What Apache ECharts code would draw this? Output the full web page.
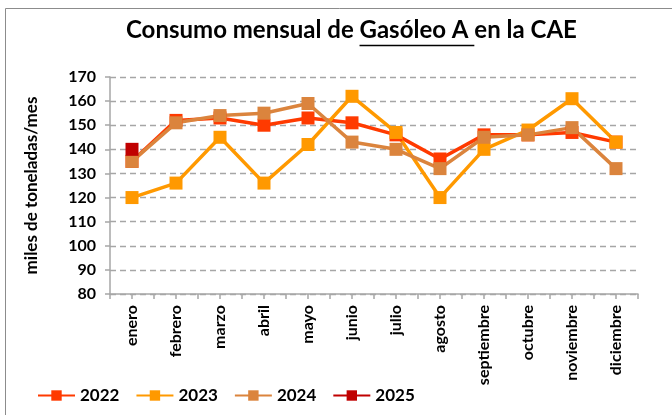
<!DOCTYPE html>
<html>
<head>
<meta charset="utf-8">
<script src="https://cdn.jsdelivr.net/npm/echarts@6/dist/echarts.min.js"></script>
<style>
  html, body { margin: 0; padding: 0; background: #fff; }
  #chart { width: 672px; height: 415px; }
</style>
</head>
<body>
<div id="chart"></div>
<script>
// datos
var meses = ['enero', 'febrero', 'marzo', 'abril', 'mayo', 'junio', 'julio', 'agosto', 'septiembre', 'octubre', 'noviembre', 'diciembre'];
var v2022 = [135, 152, 153, 150, 153, 151, 146, 136, 146, 146, 147, 143];
var v2023 = [120, 126, 145, 126, 142, 162, 147, 120, 140, 148, 161, 143];
var v2024 = [135, 151, 154, 155, 159, 143, 140, 132, 145, 146, 149, 132];
var v2025 = [140];

var fuente = 'Lato';
var tituloA = 'Consumo mensual de ';
var tituloB = 'Gasóleo A ';
var tituloC = 'en la CAE';

// medir el título para colocar el subrayado
var ctx = document.createElement('canvas').getContext('2d');
ctx.font = 'bold 24px ' + fuente;
var anchoA = ctx.measureText(tituloA).width;
var anchoB = ctx.measureText(tituloB).width;
var anchoTotal = ctx.measureText(tituloA + tituloB + tituloC).width;
var tituloX = Math.round(351 - anchoTotal / 2);
var tituloY = 18;

function serie(nombre, datos, color) {
    return {
        name: nombre,
        type: 'line',
        data: datos,
        symbol: 'rect',
        symbolSize: 13,
        lineStyle: { width: 3.5, color: color },
        itemStyle: { color: color },
        emphasis: { disabled: true },
        animation: false
    };
}

var myChart = echarts.init(document.getElementById('chart'));

var option = {
    backgroundColor: '#fff',
    textStyle: { fontFamily: fuente },
    title: {
        text: tituloA + tituloB + tituloC,
        left: tituloX - 5,
        top: tituloY - 5,
        textStyle: { fontFamily: fuente, fontSize: 24, fontWeight: 'bold', color: '#000' }
    },
    graphic: [
        // borde del área del gráfico
        { type: 'rect', shape: { x: 5.5, y: 8.5, width: 700, height: 450 }, style: { fill: null, stroke: '#8c8c8c', lineWidth: 1 }, z: -1 },
        // subrayado de "Gasóleo A"
        { type: 'line', shape: { x1: tituloX + anchoA, y1: 45.5, x2: tituloX + anchoA + anchoB, y2: 45.5 }, style: { stroke: '#000', lineWidth: 1.4 } }
    ],
    legend: {
        left: 32,
        top: 382,
        itemWidth: 37,
        itemHeight: 13,
        itemGap: 16,
        textStyle: { fontFamily: fuente, fontSize: 17, fontWeight: 'bold', color: '#000' },
        data: ['2022', '2023', '2024', '2025']
    },
    grid: { left: 110, right: 34, top: 77, bottom: 121 },
    xAxis: [{
        type: 'category',
        data: meses,
        boundaryGap: true,
        axisLine: { lineStyle: { color: '#a6a6a6', width: 1.5 } },
        axisTick: { show: true, interval: 0, length: 5, lineStyle: { color: '#a6a6a6', width: 1.5 } },
        axisLabel: { rotate: 90, interval: 0, margin: 11, fontFamily: fuente, fontSize: 16, fontWeight: 'bold', color: '#000' }
    }, {
        type: 'category',
        data: meses,
        position: 'bottom',
        boundaryGap: true,
        axisLine: { show: false },
        axisTick: { show: true, alignWithLabel: true, interval: 0, length: 5, lineStyle: { color: '#a6a6a6', width: 1.5 } },
        axisLabel: { show: false }
    }],
    yAxis: {
        type: 'value',
        min: 80,
        max: 170,
        interval: 10,
        name: 'miles de toneladas/mes',
        nameLocation: 'middle',
        nameGap: 70,
        nameRotate: 90,
        nameTextStyle: { fontFamily: fuente, fontSize: 17, fontWeight: 'bold', color: '#000' },
        axisLine: { show: true, lineStyle: { color: '#a6a6a6', width: 1.5 } },
        axisTick: { show: true, length: 5, lineStyle: { color: '#a6a6a6', width: 1.5 } },
        axisLabel: { margin: 14, fontFamily: fuente, fontSize: 16, fontWeight: 'bold', color: '#000' },
        splitLine: { lineStyle: { color: '#a6a6a6', type: [6, 4], width: 1.3 } }
    },
    series: [
        serie('2022', v2022, '#ff3a00'),
        serie('2023', v2023, '#ff9900'),
        serie('2024', v2024, '#db843d'),
        serie('2025', v2025, '#c00000')
    ]
};

myChart.setOption(option);
</script>
</body>
</html>
